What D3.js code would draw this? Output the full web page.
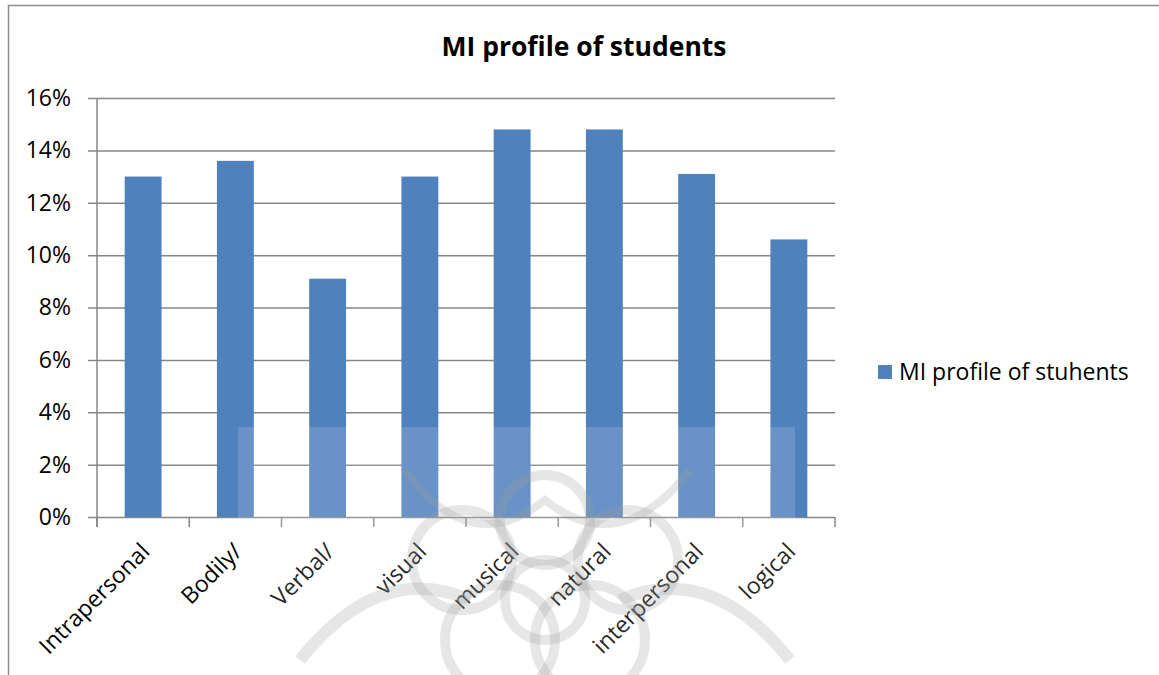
<!DOCTYPE html>
<html>
<head>
<meta charset="utf-8">
<script src="https://cdn.jsdelivr.net/npm/d3@7"></script>
<style>
  html, body { margin: 0; padding: 0; background: #fff; }
  svg { display: block; font-family: "Open Sans", sans-serif; }
</style>
</head>
<body>
<div id="chart"></div>
<script>
// MI profile bar chart

// data
const categories = ['Intrapersonal', 'Bodily/', 'Verbal/', 'visual', 'musical', 'natural', 'interpersonal', 'logical'];
const values = [0.130, 0.136, 0.091, 0.130, 0.148, 0.148, 0.131, 0.106];
const yTicks = [0, 0.02, 0.04, 0.06, 0.08, 0.10, 0.12, 0.14, 0.16];
const chartTitle = 'MI profile of students';
const seriesName = 'MI profile of stuhents';

const W = 1159;
const H = 675;
const margin = { top: 98, right: 324, bottom: 158, left: 97 };
const width = W - margin.left - margin.right;
const height = H - margin.top - margin.bottom;

const barColor = '#4f81bd';
const gridColor = '#868686';

const svg = d3.select('#chart')
  .append('svg')
  .attr('width', W)
  .attr('height', H);

// chart frame (only top and left edges are visible)
svg.append('path')
  .attr('d', `M8.5,${H} V5.5 H${W}`)
  .attr('fill', 'none')
  .attr('stroke', '#8c8c8c')
  .attr('stroke-width', 1.5);

svg.append('text')
  .text(chartTitle)
  .attr('x', 584)
  .attr('y', 56)
  .attr('text-anchor', 'middle')
  .style('font-weight', 'bold')
  .style('font-size', '26.5px')
  .style('fill', '#000');

const g = svg.append('g')
  .attr('transform', `translate(${margin.left}, ${margin.top})`);

const x = d3.scaleBand()
  .domain(categories)
  .range([0, width])
  .paddingInner(0.6)
  .paddingOuter(0.3);

const y = d3.scaleLinear()
  .domain([0, 0.16])
  .range([height, 0]);

// horizontal gridlines + y axis
const yAxis = d3.axisLeft(y)
  .tickValues(yTicks)
  .tickFormat(d3.format('.0%'))
  .tickSize(-width)
  .tickPadding(26);

g.append('g')
  .attr('class', 'y-axis')
  .call(yAxis)
  .call(s => s.select('.domain').remove())
  .call(s => s.selectAll('.tick line')
    .attr('x1', -9)
    .attr('stroke', gridColor)
    .attr('stroke-width', 1.5))
  .call(s => s.selectAll('.tick text')
    .style('font-size', '23px')
    .style('font-family', '"Open Sans", sans-serif')
    .attr('fill', '#000'));

// vertical axis line
g.append('line')
  .attr('x1', 0).attr('x2', 0)
  .attr('y1', 0).attr('y2', height + 10)
  .attr('stroke', gridColor)
  .attr('stroke-width', 1.5);

// category boundary ticks on the x axis
const boundaries = d3.range(categories.length + 1).map(i => i * width / categories.length);
g.selectAll('.xtick')
  .data(boundaries)
  .enter()
  .append('line')
  .attr('class', 'xtick')
  .attr('x1', d => d).attr('x2', d => d)
  .attr('y1', height).attr('y2', height + 10)
  .attr('stroke', gridColor)
  .attr('stroke-width', 1.5);

// bars
g.selectAll('.bar')
  .data(values)
  .enter()
  .append('rect')
  .attr('class', 'bar')
  .attr('x', (d, i) => x(categories[i]))
  .attr('y', d => y(d))
  .attr('width', x.bandwidth())
  .attr('height', d => height - y(d))
  .attr('fill', barColor);

// category labels, rotated
g.selectAll('.xlabel')
  .data(categories)
  .enter()
  .append('text')
  .attr('class', 'xlabel')
  .text(d => d)
  .attr('text-anchor', 'end')
  .attr('transform', d => `translate(${x(d) + x.bandwidth() / 2 + 8}, ${height + 36}) rotate(-45)`)
  .style('font-size', '23px')
  .style('fill', '#000');

// watermark: faint white veil over the lower part of the bars
svg.append('rect')
  .attr('x', 238)
  .attr('y', 427)
  .attr('width', 557)
  .attr('height', H - 427)
  .attr('fill', '#fff')
  .attr('opacity', 0.15);

// watermark: faint grey ornament
const mark = svg.append('g')
  .attr('fill', 'none')
  .attr('stroke', '#9a9a9a')
  .attr('stroke-opacity', 0.25)
  .attr('stroke-width', 10);

const rings = [
  [462, 560, 50], [545, 520, 45], [628, 560, 50],
  [500, 640, 55], [590, 640, 55], [545, 600, 40]
];
mark.selectAll('circle')
  .data(rings)
  .enter()
  .append('circle')
  .attr('cx', d => d[0])
  .attr('cy', d => d[1])
  .attr('r', d => d[2]);

mark.append('path')
  .attr('d', 'M405,470 Q470,560 545,500 Q620,560 690,470')
  .attr('stroke-width', 8);
mark.append('path')
  .attr('d', 'M300,660 Q380,560 470,600 M790,660 Q710,560 620,600')
  .attr('stroke-width', 12);

// legend
const legend = svg.append('g')
  .attr('transform', 'translate(878, 365)');

legend.append('rect')
  .attr('width', 14)
  .attr('height', 14)
  .attr('fill', barColor);

legend.append('text')
  .text(seriesName)
  .attr('x', 21)
  .attr('y', 15)
  .style('font-size', '23px')
  .style('fill', '#000');
</script>
</body>
</html>
